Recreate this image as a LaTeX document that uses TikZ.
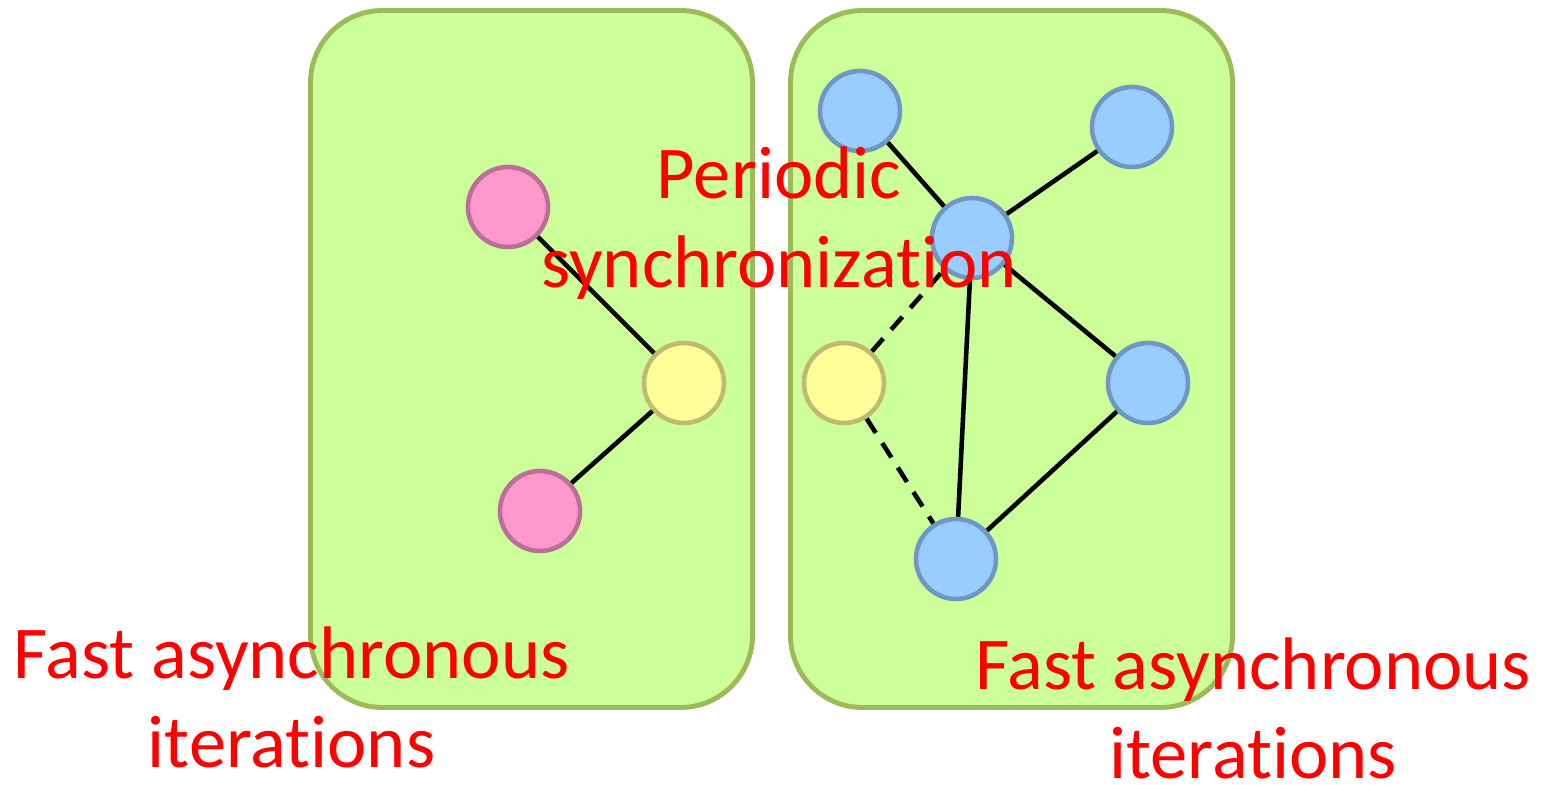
\documentclass[tikz,border=0pt]{standalone}
\usepackage{fontspec}
\setmainfont{Carlito}[Ligatures=NoCommon]
\usepackage{tikz}

\definecolor{boxfill}{HTML}{CCFF99}
\definecolor{boxline}{HTML}{9BBB59}
\definecolor{pinkfill}{HTML}{FF99CC}
\definecolor{pinkline}{HTML}{BA6E98}
\definecolor{yellowfill}{HTML}{FFFF99}
\definecolor{yellowline}{HTML}{BFBA6E}
\definecolor{bluefill}{HTML}{99CCFF}
\definecolor{blueline}{HTML}{6E97C1}

\begin{document}
\begin{tikzpicture}
  \useasboundingbox (0,0) rectangle (15.46,7.85);

  % Define a style for consistent circles, boxes and lines
  \tikzset{
    mybox/.style={draw=boxline, fill=boxfill, line width=1.4pt, rounded corners=0.72cm},
    mycircle/.style={circle, line width=1.3pt, minimum size=0.8cm, inner sep=0pt},
    pinkcircle/.style={mycircle, draw=pinkline, fill=pinkfill},
    yellowcircle/.style={mycircle, draw=yellowline, fill=yellowfill},
    bluecircle/.style={mycircle, draw=blueline, fill=bluefill},
    myline/.style={line width=1.3pt, black},
    mydashed/.style={myline, dash pattern=on 0.17cm off 0.12cm},
    mylabel/.style={text=red, align=center, font=\fontsize{21.2}{25.5}\selectfont}
  }

  % Draw the two partitions
  \draw[mybox] (3.105,0.775) rectangle (7.525,7.745);
  \draw[mybox] (7.905,0.775) rectangle (12.325,7.745);

  % Draw the vertices of the left partition
  \node[pinkcircle] (p1) at (5.08,5.78) {};
  \node[yellowcircle] (y1) at (6.84,4.02) {};
  \node[pinkcircle] (p2) at (5.40,2.74) {};

  % Draw the vertices of the right partition
  \node[bluecircle] (b1) at (8.60,6.74) {};
  \node[bluecircle] (b2) at (11.32,6.58) {};
  \node[bluecircle] (b3) at (9.72,5.47) {};
  \node[yellowcircle] (y2) at (8.44,4.02) {};
  \node[bluecircle] (b4) at (11.48,4.02) {};
  \node[bluecircle] (b5) at (9.56,2.26) {};

  % Draw lines connecting the circles
  \draw[myline] (p1) -- (y1);
  \draw[myline] (y1) -- (p2);
  \draw[myline] (b1) -- (b3);
  \draw[myline] (b2) -- (b3);
  \draw[myline] (b3) -- (b4);
  \draw[myline] (b3) -- (b5);
  \draw[myline] (b4) -- (b5);
  \draw[mydashed] (y2) -- (b3);
  \draw[mydashed] (y2) -- (b5);

  % Labels (base = baseline of the last line)
  \node[mylabel, anchor=base] (sync) at (7.79,4.97) {Periodic\\synchronization};
  \node[mylabel, anchor=base] (left) at (2.915,0.17) {Fast asynchronous\\iterations};
  \node[mylabel, anchor=base] (right) at (12.53,0.06) {Fast asynchronous\\iterations};
\end{tikzpicture}
\end{document}
